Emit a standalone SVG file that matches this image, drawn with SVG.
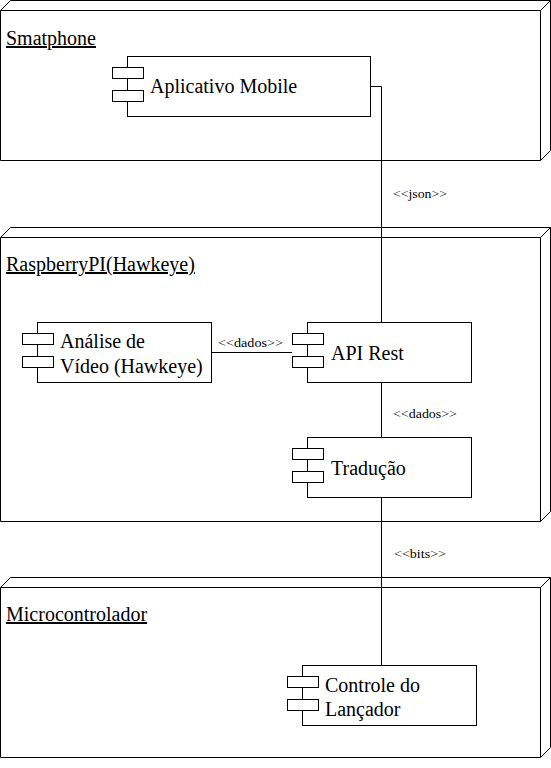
<svg xmlns="http://www.w3.org/2000/svg" width="551" height="768" viewBox="0 0 551 768">
<style>
.n{fill:#fff;stroke:#000;stroke-width:1}
.c{fill:#fff;stroke:#000;stroke-width:1}
.t{font-family:"Liberation Serif","Times New Roman",serif;font-size:20px;fill:#000}
.u{text-decoration:underline}
.l{font-family:"Liberation Serif","Times New Roman",serif;font-size:12px;fill:#000}
.e{fill:none;stroke:#000;stroke-width:1}
</style>
<rect width="551" height="768" fill="#fff"/>
<g id="smartphone">
<path class="n" d="M0.5,10.5 L10.5,0.5 H550.5 V150.5 L540.5,160.5 H0.5 Z"/>
<path class="e" d="M0.5,10.5 H540.5 V160.5 M540.5,10.5 L550.5,0.5"/>
<text class="t u" x="6" y="45">Smatphone</text>
</g>
<g id="raspberry">
<path class="n" d="M0.5,237.5 L10.5,227.5 H550.5 V511.5 L540.5,521.5 H0.5 Z"/>
<path class="e" d="M0.5,237.5 H540.5 V521.5 M540.5,237.5 L550.5,227.5"/>
<text class="t u" x="6" y="271">RaspberryPI(Hawkeye)</text>
</g>
<g id="micro">
<path class="n" d="M0.5,587.5 L10.5,577.5 H550.5 V747.5 L540.5,757.5 H0.5 Z"/>
<path class="e" d="M0.5,587.5 H540.5 V757.5 M540.5,587.5 L550.5,577.5"/>
<text class="t u" x="6" y="621">Microcontrolador</text>
</g>
<g id="connectors">
<path class="e" d="M370,86.5 H381.5 V323"/>
<path class="e" d="M211,352.5 H292"/>
<path class="e" d="M381.5,382 V437"/>
<path class="e" d="M381.5,497 V665"/>
<text class="l" x="393" y="198" textLength="54" lengthAdjust="spacingAndGlyphs">&lt;&lt;json&gt;&gt;</text>
<text class="l" x="218" y="347" textLength="65" lengthAdjust="spacingAndGlyphs">&lt;&lt;dados&gt;&gt;</text>
<text class="l" x="393" y="418" textLength="64" lengthAdjust="spacingAndGlyphs">&lt;&lt;dados&gt;&gt;</text>
<text class="l" x="394" y="558" textLength="52" lengthAdjust="spacingAndGlyphs">&lt;&lt;bits&gt;&gt;</text>
</g>
<g id="app">
<rect class="c" x="127.5" y="56.5" width="243" height="60"/>
<rect class="c" x="112.5" y="67.5" width="31" height="11"/>
<rect class="c" x="112.5" y="90.5" width="31" height="11"/>
<text class="t" x="150" y="93">Aplicativo Mobile</text>
</g>
<g id="analise">
<rect class="c" x="37.5" y="322.5" width="174" height="60"/>
<rect class="c" x="22.5" y="333.5" width="31" height="11"/>
<rect class="c" x="22.5" y="356.5" width="31" height="11"/>
<text class="t" x="60" y="348">Análise de</text>
<text class="t" x="60" y="373">Vídeo (Hawkeye)</text>
</g>
<g id="api">
<rect class="c" x="307.5" y="322.5" width="164" height="60"/>
<rect class="c" x="292.5" y="333.5" width="31" height="11"/>
<rect class="c" x="292.5" y="356.5" width="31" height="11"/>
<text class="t" x="331" y="360">API Rest</text>
</g>
<g id="traducao">
<rect class="c" x="307.5" y="437.5" width="164" height="60"/>
<rect class="c" x="292.5" y="448.5" width="31" height="11"/>
<rect class="c" x="292.5" y="471.5" width="31" height="11"/>
<text class="t" x="331" y="475">Tradução</text>
</g>
<g id="controle">
<rect class="c" x="302.5" y="665.5" width="174" height="60"/>
<rect class="c" x="287.5" y="676.5" width="31" height="11"/>
<rect class="c" x="287.5" y="699.5" width="31" height="11"/>
<text class="t" x="325" y="692">Controle do</text>
<text class="t" x="325" y="716">Lançador</text>
</g>
</svg>
